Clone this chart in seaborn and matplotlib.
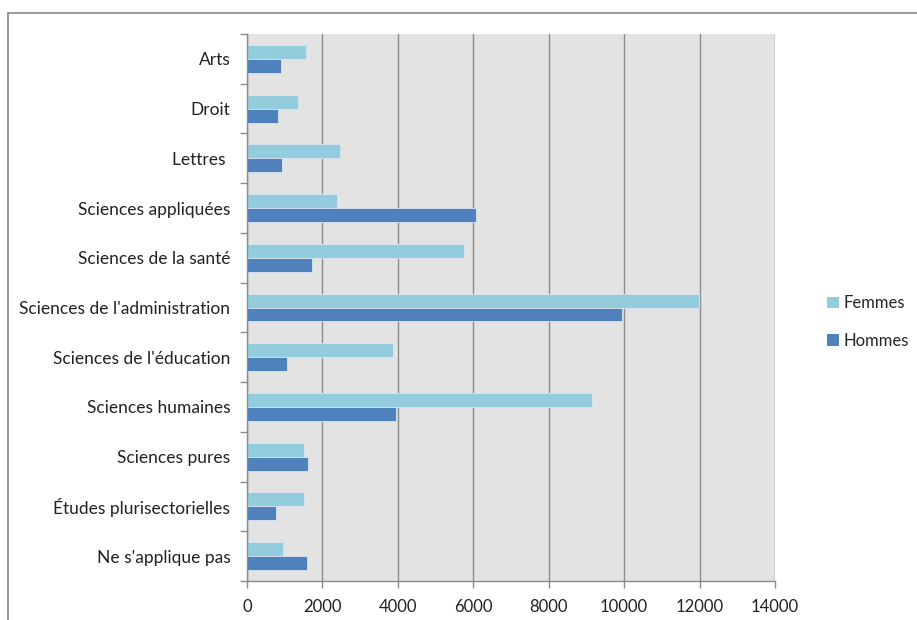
import matplotlib
matplotlib.use("Agg")
import matplotlib.pyplot as plt
from matplotlib.lines import Line2D
from matplotlib.patches import Patch
import seaborn as sns
import pandas as pd
import numpy as np

categories = ["Arts", "Droit", "Lettres ", "Sciences appliquées", "Sciences de la santé",
              "Sciences de l'administration", "Sciences de l'éducation", "Sciences humaines",
              "Sciences pures", "Études plurisectorielles", "Ne s'applique pas"]
femmes = [1560, 1360, 2460, 2390, 5750, 11980, 3870, 9150, 1500, 1500, 960]
hommes = [910, 815, 930, 6080, 1730, 9930, 1060, 3940, 1620, 775, 1600]
series = ["Femmes", "Hommes"]
xticks = [0, 2000, 4000, 6000, 8000, 10000, 12000, 14000]

df = pd.DataFrame({
    "cat": categories * 2,
    "val": femmes + hommes,
    "sexe": ["Femmes"] * len(categories) + ["Hommes"] * len(categories),
})

sns.set_theme(style="white")
plt.rcParams["font.family"] = ["Liberation Sans Narrow", "Lato", "DejaVu Sans"]

colors = {"Femmes": "#93CDDD", "Hommes": "#4F81BD"}

fig = plt.figure(figsize=(9.17, 6.2), dpi=100)
ax = fig.add_axes([247/917, 1 - 581/620, (775-247)/917, (581-34)/620])
ax.set_facecolor("#E3E3E3")

sns.barplot(data=df, y="cat", x="val", hue="sexe", hue_order=series, order=categories,
            palette=colors, saturation=1, orient="h", width=0.56, dodge=True, ax=ax,
            edgecolor="#D8E4F0", linewidth=0.6, legend=False, errorbar=None)

ax.set_xlim(0, 14000)
ax.set_ylim(len(categories) - 0.5, -0.5)
ax.set_xticks(xticks)
ax.set_xticklabels([str(t) for t in xticks], fontsize=12, color="#222222")
ax.xaxis.grid(True, color="#8C8C8C", linewidth=1.0)
ax.set_axisbelow(True)
ax.set_xlabel("")
ax.set_ylabel("")

ax.set_yticks(range(len(categories)))
ax.set_yticklabels(categories, fontsize=12.5, color="#222222")
ax.set_yticks(np.arange(-0.5, len(categories), 1.0), minor=True)
ax.tick_params(axis="y", which="major", length=0, pad=12)
ax.tick_params(axis="y", which="minor", length=5, width=1, color="#8C8C8C", direction="out", left=True)
ax.tick_params(axis="x", which="major", length=5, width=1, color="#8C8C8C", direction="out",
               bottom=True, pad=8)

for s in ["top", "right"]:
    ax.spines[s].set_visible(False)
for s in ["left", "bottom"]:
    ax.spines[s].set_color("#8C8C8C")
    ax.spines[s].set_linewidth(1.0)

handles = [Patch(facecolor=colors[s], edgecolor="none") for s in series]
fig.legend(handles, series, loc="center left", bbox_to_anchor=(812/917, 1 - 322/620),
           frameon=False, fontsize=12, handlelength=0.7, handleheight=0.7,
           handletextpad=0.3, labelspacing=1.3, borderaxespad=0.5, borderpad=0.4)

# outer chart border
fig.add_artist(Line2D([8/917, 1], [1 - 13/620, 1 - 13/620], transform=fig.transFigure,
                      color="#888888", linewidth=1.2))
fig.add_artist(Line2D([8/917, 8/917], [0, 1 - 13/620], transform=fig.transFigure,
                      color="#888888", linewidth=1.2))

fig.savefig("out.png", dpi=100, facecolor="white")
